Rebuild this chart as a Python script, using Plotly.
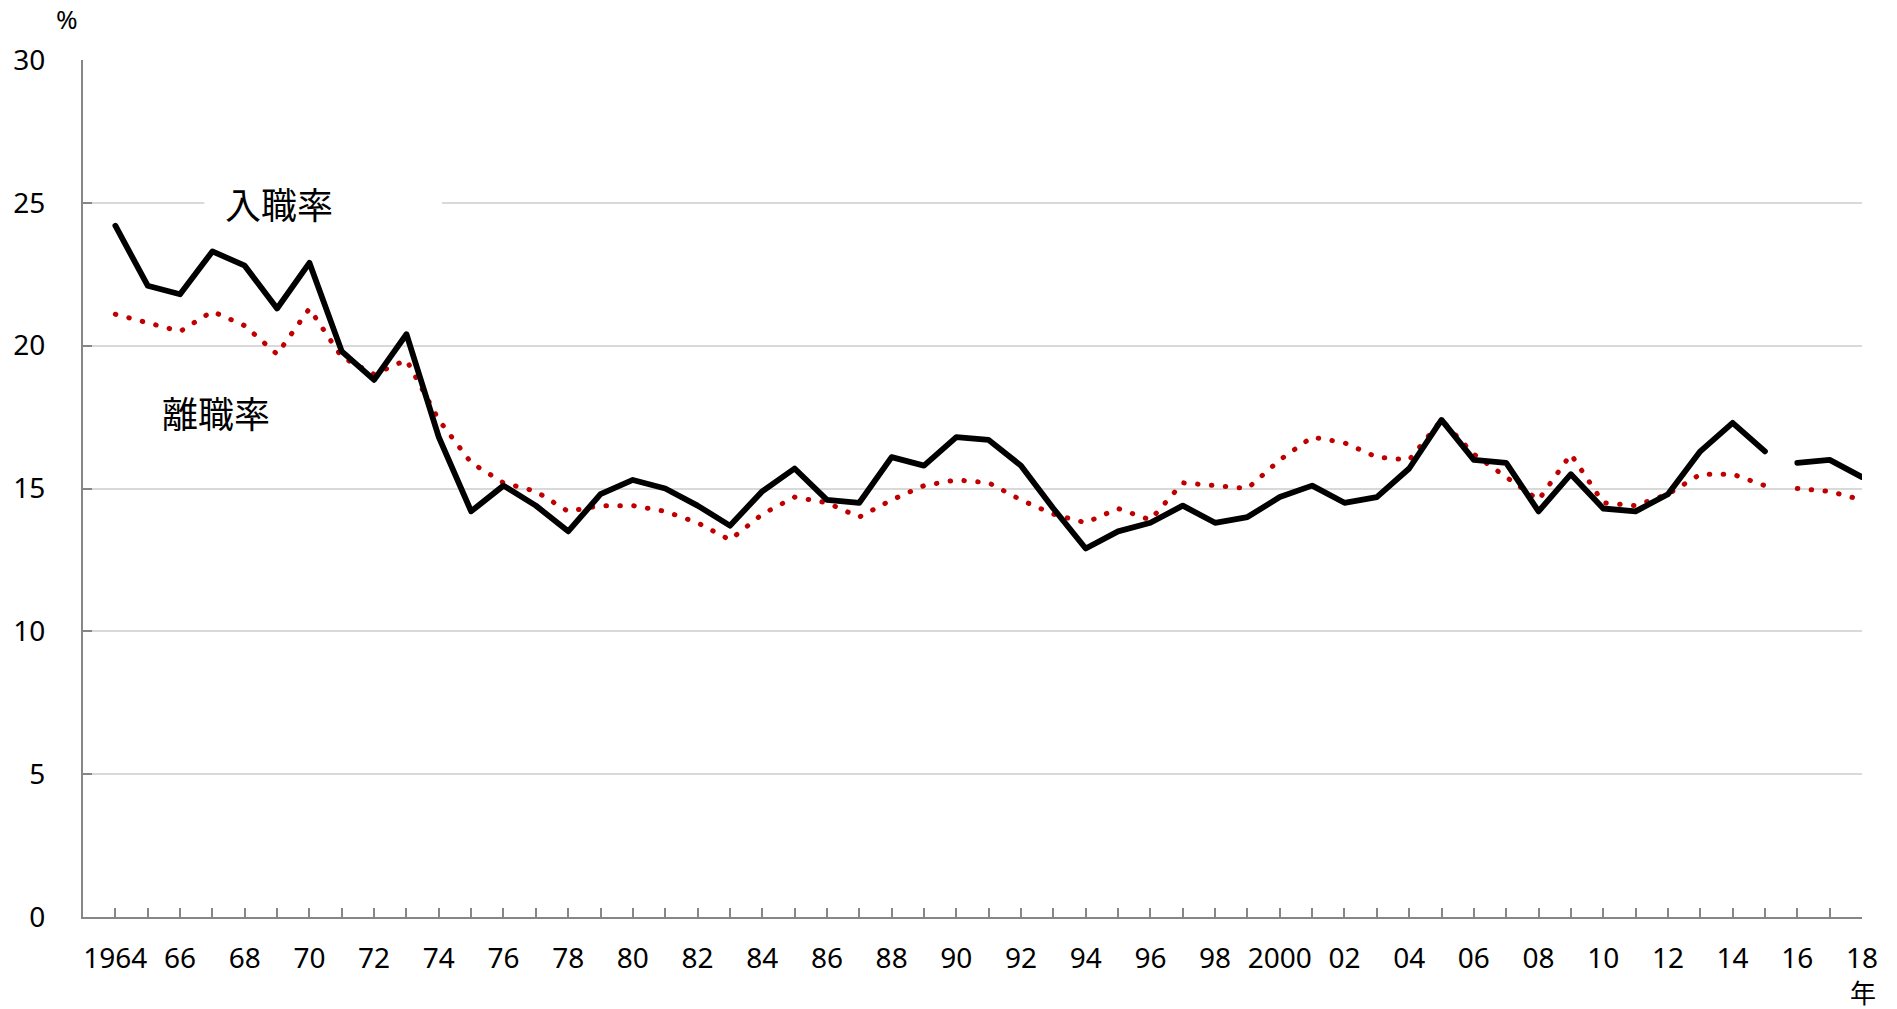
import plotly.graph_objects as go

# Annual hiring rate (入職率) and separation rate (離職率), %, 1964-2018
years = list(range(1964, 2019))
hire_rate = [24.2, 22.1, 21.8, 23.3, 22.8, 21.3, 22.9, 19.8, 18.8, 20.4,   # 1964-73
             16.8, 14.2, 15.1, 14.4, 13.5, 14.8, 15.3, 15.0, 14.4, 13.7,   # 1974-83
             14.9, 15.7, 14.6, 14.5, 16.1, 15.8, 16.8, 16.7, 15.8, 14.3,   # 1984-93
             12.9, 13.5, 13.8, 14.4, 13.8, 14.0, 14.7, 15.1, 14.5, 14.7,   # 1994-2003
             15.7, 17.4, 16.0, 15.9, 14.2, 15.5, 14.3, 14.2, 14.8, 16.3,   # 2004-13
             17.3, 16.3, 15.9, 16.0, 15.4]                                 # 2014-18
sep_rate = [21.1, 20.8, 20.5, 21.2, 20.7, 19.7, 21.3, 19.6, 19.0, 19.5,
            17.4, 15.9, 15.2, 14.9, 14.2, 14.4, 14.4, 14.2, 13.8, 13.2,
            14.1, 14.7, 14.5, 14.0, 14.6, 15.1, 15.3, 15.2, 14.6, 14.1,
            13.8, 14.3, 13.9, 15.2, 15.1, 15.0, 16.0, 16.8, 16.6, 16.1,
            16.0, 17.4, 16.2, 15.4, 14.6, 16.2, 14.5, 14.4, 14.8, 15.5,
            15.5, 15.1, 15.0, 14.9, 14.6]

# The series is discontinuous between 2015 and 2016
break_year = 2016

tick_labels = ["1964", "66", "68", "70", "72", "74", "76", "78", "80", "82",
               "84", "86", "88", "90", "92", "94", "96", "98", "2000", "02",
               "04", "06", "08", "10", "12", "14", "16", "18"]
y_ticks = [0, 5, 10, 15, 20, 25, 30]

FONT = "Noto Sans, Noto Sans CJK JP, sans-serif"
CJK = "Noto Sans CJK JP, Noto Sans, sans-serif"
AXIS_GREY = "#868686"

fig = go.Figure()


def add_segments(values, line):
    segs = [[(x, v) for x, v in zip(years, values) if x < break_year],
            [(x, v) for x, v in zip(years, values) if x >= break_year]]
    for seg in segs:
        fig.add_trace(go.Scatter(
            x=[p[0] for p in seg], y=[p[1] for p in seg],
            mode="lines", line=line, showlegend=False, hoverinfo="skip"))


add_segments(sep_rate, dict(color="#C00000", width=5.0, dash="0.5px,13.4px"))
add_segments(hire_rate, dict(color="#000000", width=5.8))

# ticks on every year, labels on even years
tickvals = years
label_iter = iter(tick_labels)
ticktext = [next(label_iter) if y % 2 == 0 else "" for y in years]

fig.update_xaxes(
    range=[1963, 2018], tickvals=tickvals, ticktext=ticktext,
    ticks="inside", ticklen=9, tickwidth=1.5, tickcolor=AXIS_GREY,
    showline=True, linecolor=AXIS_GREY, linewidth=2,
    showgrid=False, zeroline=False,
    tickfont=dict(family=FONT, size=28, color="#000"),
    ticklabelstandoff=15)
fig.update_yaxes(
    range=[0, 30], tickvals=y_ticks,
    ticks="inside", ticklen=9, tickwidth=1.5, tickcolor=AXIS_GREY,
    showline=True, linecolor=AXIS_GREY, linewidth=2,
    showgrid=True, gridcolor="#d9d9d9", gridwidth=1.5, zeroline=False,
    tickfont=dict(family=FONT, size=28, color="#000"),
    ticklabelstandoff=30)

# white backing behind the 入職率 label
fig.add_shape(type="rect", xref="x", yref="y", x0=1966.75, x1=1974.1,
              y0=24.3, y1=25.8, fillcolor="white", line_width=0, layer="between")

fig.add_annotation(x=1969.07, y=24.98, xref="x", yref="y", text="入職率",
                   showarrow=False, xanchor="center", yanchor="middle",
                   font=dict(family=CJK, size=36, color="#000"))
fig.add_annotation(x=1967.12, y=17.68, xref="x", yref="y", text="離職率",
                   showarrow=False, xanchor="center", yanchor="middle",
                   font=dict(family=CJK, size=36, color="#000"))
fig.add_annotation(x=-0.0088, y=1.048, xref="paper", yref="paper", text="%",
                   showarrow=False, xanchor="center", yanchor="middle",
                   font=dict(family=FONT, size=26, color="#000"))
fig.add_annotation(x=1.0007, y=-0.0875, xref="paper", yref="paper", text="年",
                   showarrow=False, xanchor="center", yanchor="middle",
                   font=dict(family=CJK, size=26, color="#000"))

fig.update_layout(
    width=1897, height=1009,
    margin=dict(l=83, r=35, t=60, b=92),
    paper_bgcolor="white", plot_bgcolor="white")

round_caps = """
var gd = document.getElementById('{plot_id}');
gd.querySelectorAll('.scatterlayer .js-line').forEach(function (p) {
  p.style.strokeLinecap = 'round';
  p.style.strokeLinejoin = 'round';
});
"""

fig.write_html("out.html", post_script=round_caps)
